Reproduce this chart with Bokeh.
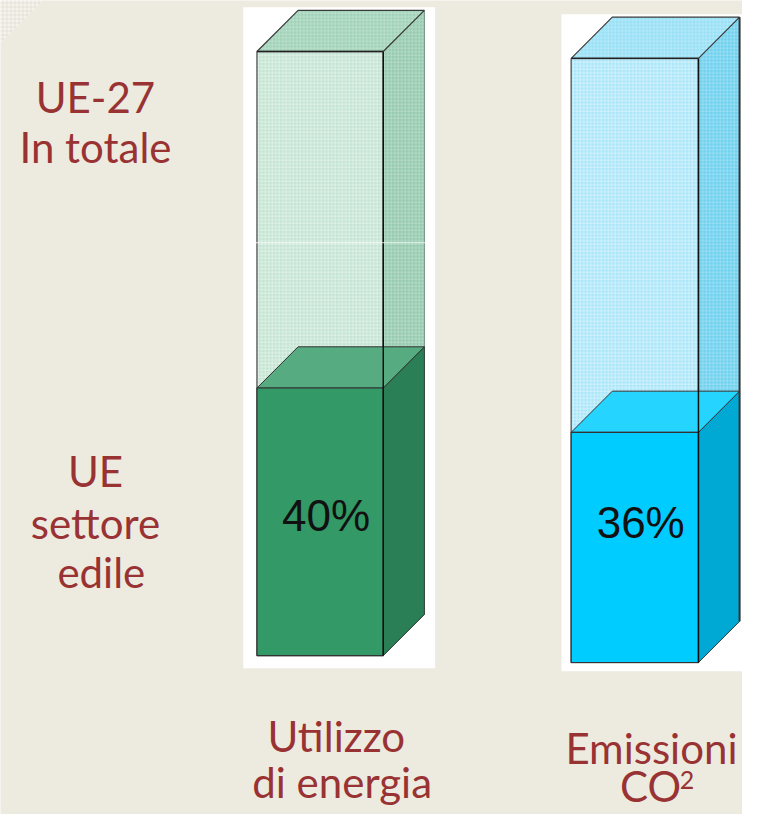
from bokeh.plotting import figure
from bokeh.models import Range1d
from bokeh.core.properties import value
from bokeh.embed import file_html
from bokeh.resources import INLINE

# ---------------- data ----------------
measures = ["Utilizzo di energia", "Emissioni CO2"]
share_labels = ["40%", "36%"]            # EU building-sector share as labelled
sector_level_drawn = [44.3, 38.1]       # filled block height as drawn (% of the total column)
total_level = [100, 100]                # EU-27 total column
row_labels_top = ["UE-27", "In totale"]
row_labels_bottom = ["UE", "settore", "edile"]
measure_lines = [["Utilizzo", "di energia"], ["Emissioni", "CO"]]

# ---------------- layout / style ----------------
PX = 6.16            # reference px per percent unit
Y0 = 668             # reference row of 0 %
def yu(screen_y):
    return (Y0 - screen_y) / PX

BG = "#edeae0"
RED = "#993333"
FONT = "Lato"
FS = "42px"

bar_left = [262, 583]
bar_width = [129, 130]
bar_base = [0.0, -1.14]
DX = 42
DY = 42 / PX

styles = [
    dict(e_front="#c3e4d2", e_right="#96cbaf", e_top="#a0d2b8", hatch="#ffffff",
         f_front="#339966", f_right="#2b7f56", f_top="#56ab80"),
    dict(e_front="#aae6f9", e_right="#70d1ee", e_top="#98e0f6", hatch="#ffffff",
         f_front="#00ccff", f_right="#00a9d4", f_top="#25d4ff"),
]
bg_rects = [(248, 444, 7, 681), (573, 770, 14, 684)]

p = figure(width=742, height=814, output_backend="svg", toolbar_location=None,
           x_range=Range1d(0, 758), y_range=Range1d(yu(830), yu(0)),
           x_axis_type=None, y_axis_type=None, min_border=0,
           background_fill_color=BG, border_fill_color=BG, outline_line_color=None)
p.grid.visible = False

# corner pattern
p.patch([0, 44, 0], [yu(0), yu(0), yu(44)], fill_color="#f5f3ed", line_color=None,
        hatch_pattern="+", hatch_color="#dcd7c9", hatch_scale=4, hatch_weight=0.6)

def faces(x0, w, y0, y1):
    front = ([x0, x0 + w, x0 + w, x0], [y0, y0, y1, y1])
    right = ([x0 + w, x0 + w + DX, x0 + w + DX, x0 + w], [y0, y0 + DY, y1 + DY, y1])
    top = ([x0, x0 + w, x0 + w + DX, x0 + DX], [y1, y1, y1 + DY, y1 + DY])
    return front, right, top

for i in range(len(measures)):
    st = styles[i]
    l, r, t, b = bg_rects[i]
    p.quad(left=l, right=r, top=yu(t), bottom=yu(b), fill_color="white", line_color=None)

    x0, w, base = bar_left[i], bar_width[i], bar_base[i]
    # empty (total) column
    fr, rt, tp = faces(x0, w, base, base + total_level[i])
    p.patch(*rt, fill_color=st["e_right"], line_color="#6f8f80", line_width=1,
            hatch_pattern="+", hatch_color=st["hatch"], hatch_scale=3.5, hatch_weight=0.7, hatch_alpha=0.35)
    p.patch(*tp, fill_color=st["e_top"], line_color="#3a3a3a", line_width=1.2,
            hatch_pattern="+", hatch_color=st["hatch"], hatch_scale=3.5, hatch_weight=0.7, hatch_alpha=0.35)
    p.patch(*fr, fill_color=st["e_front"], line_color="#666666", line_width=1.5,
            hatch_pattern="+", hatch_color=st["hatch"], hatch_scale=3.5, hatch_weight=0.8, hatch_alpha=0.5)

    # filled (sector) column
    fr2, rt2, tp2 = faces(x0, w, base, base + sector_level_drawn[i])
    p.patch(*rt2, fill_color=st["f_right"], line_color="#2f3f38", line_width=1)
    p.patch(*tp2, fill_color=st["f_top"], line_color="#333333", line_width=1)
    p.patch(*fr2, fill_color=st["f_front"], line_color="#333333", line_width=1.2)

    # front-right edge of the total column, visible through the block
    p.line([x0 + w, x0 + w], [base, base + total_level[i]], line_color="#111111", line_width=1.5)
    p.line([x0, x0 + w], [base + total_level[i]] * 2, line_color="#222222", line_width=1.3)

    # percentage label (y = visual centre of the digits)
    p.text(x=[x0 + w / 2 + 6], y=[base + 23.2], text=[share_labels[i]],
           text_font=value("Liberation Sans"), text_font_size="44px",
           text_color="#111111", text_align="center", text_baseline="middle")

# right edge shadow of second picture
p.line([755, 755], [bar_base[1] + DY, bar_base[1] + total_level[1] + DY],
       line_color="#333333", line_width=2)

# light artefact line across first picture
p.line([248, 444], [yu(247), yu(247)], line_color="#ffffff", line_width=1, line_alpha=0.8)

TXT = dict(text_font=value(FONT), text_font_size=FS, text_color=RED,
           text_align="center", text_baseline="middle")

# row labels (left) — y is the visual centre of each line
p.text(x=[97, 97], y=[yu(98), yu(149)], text=row_labels_top, **TXT)
p.text(x=[97, 97, 103], y=[yu(480), yu(533), yu(583)], text=row_labels_bottom, **TXT)

# measure labels (bottom)
p.text(x=[343, 349], y=[yu(750), yu(797)], text=measure_lines[0], **TXT)
p.text(x=[665, 664], y=[yu(762), yu(801)], text=measure_lines[1], **TXT)
p.text(x=[694], y=[yu(795)], text=["2"],
       text_font=value(FONT), text_font_size="25px", text_color=RED,
       text_align="left", text_baseline="middle")

open("out.html", "w").write(file_html(p, INLINE))
